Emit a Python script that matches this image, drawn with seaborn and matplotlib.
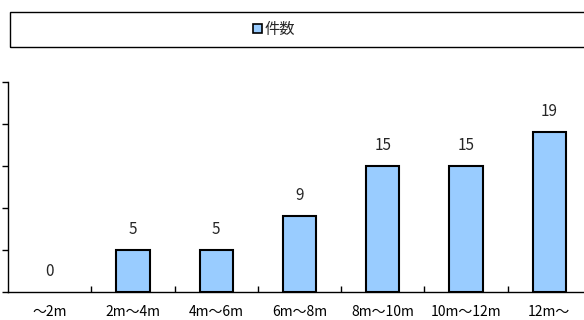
import matplotlib
matplotlib.use("Agg")
import matplotlib.pyplot as plt
import seaborn as sns
import pandas as pd
from matplotlib.patches import Rectangle, Patch

categories = ["～2m", "2m～4m", "4m～6m", "6m～8m", "8m～10m", "10m～12m", "12m～"]
counts = [0, 5, 5, 9, 15, 15, 19]
series_name = "件数"

sns.set_theme(style="white")
plt.rcParams['font.family'] = ['Noto Sans CJK JP', 'DejaVu Sans']

df = pd.DataFrame({"cat": categories, "val": counts})

fig = plt.figure(figsize=(5.84, 3.2), dpi=100)
ax = fig.add_axes([8/584, 28/320, 583/584, 210/320])
sns.barplot(data=df, x="cat", y="val", color="#99CCFF", saturation=1,
            edgecolor="black", linewidth=1.5, width=0.4, ax=ax)
for p in ax.patches:
    if p.get_height() == 0:
        p.set_linewidth(0)
ax.set_xlim(-0.5, 6.5)
ax.set_ylim(0, 25)
ax.set_yticks([0, 5, 10, 15, 20, 25])
ax.set_yticklabels([])
ax.set_xlabel("")
ax.set_ylabel("")
for s in ["top", "right"]:
    ax.spines[s].set_visible(False)
for s in ["left", "bottom"]:
    ax.spines[s].set_color("black")
    ax.spines[s].set_linewidth(1.0)
ax.tick_params(axis="y", direction="out", length=4, width=1, color="black", left=True)
ax.tick_params(axis="x", which="major", length=0, pad=9, labelsize=10, colors="black")
ax.set_xticks([0.5, 1.5, 2.5, 3.5, 4.5, 5.5], minor=True)
ax.tick_params(axis="x", which="minor", direction="in", length=4, width=1, color="black", bottom=True)

for c in ax.containers:
    ax.bar_label(c, labels=[str(v) for v in counts], padding=9, fontsize=11)

# legend frame
fig.patches.append(Rectangle((10/584, 273/320), 590/584, 35/320, transform=fig.transFigure,
                             fill=False, edgecolor="black", linewidth=1.0))
handle = Patch(facecolor="#99CCFF", edgecolor="black", linewidth=1.2)
fig.legend([handle], [series_name], loc="center", bbox_to_anchor=(274/584, 1 - 29.5/320),
           frameon=False, fontsize=11, handlelength=0.6, handleheight=0.6, handletextpad=0.2)

fig.savefig("out.png", dpi=100)
